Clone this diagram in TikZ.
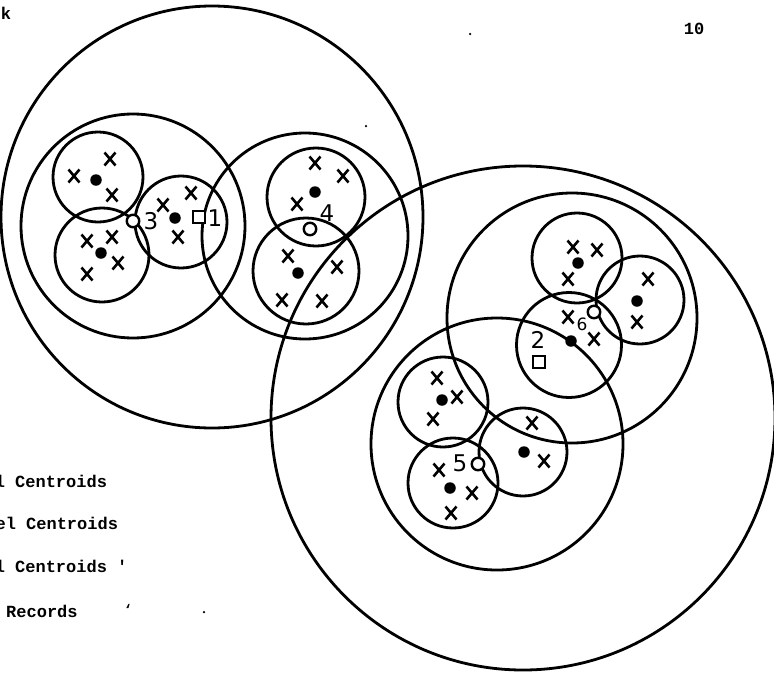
\documentclass[tikz,border=0pt]{standalone}
\usepackage{fontspec}
\newfontfamily\labfont{DejaVu Sans}
\newfontfamily\legfont{Liberation Mono}
\begin{document}
\begin{tikzpicture}[x=1pt,y=-1pt,
  ring/.style={circle, draw, line width=2.8pt, inner sep=0pt},
  cdot/.style={circle, fill, inner sep=0pt, minimum size=11.5pt},
  ocirc/.style={circle, draw, line width=2.4pt, fill=white, inner sep=0pt, minimum size=12.5pt},
  sqr/.style={draw, line width=2.4pt, fill=white, inner sep=0pt, minimum width=12pt, minimum height=12pt},
  num/.style={font=\labfont\fontsize{23}{23}\selectfont, inner sep=0pt},
  smallnum/.style={font=\labfont\fontsize{17}{17}\selectfont, inner sep=0pt},
  leg/.style={font=\legfont\bfseries\fontsize{17}{17}\selectfont, anchor=base west, inner sep=0pt},
  speck/.style={circle, fill, inner sep=0pt, minimum size=2.5pt},
  xm/.pic={\draw[line width=2.6pt] (-5.5,-6.5)--(5.5,6.5) (-5.5,6.5)--(5.5,-6.5);}
]
\useasboundingbox (0,0) rectangle (774,678);
% level 1
\node[ring, minimum size=422pt] (TL) at (212,217) {};
\node[ring, minimum size=504pt] (BR) at (523,418) {};
% level 2
\node[ring, minimum size=224pt] (TLa) at (133,226) {};
\node[ring, minimum size=206pt] (TLb) at (305,236) {};
\node[ring, minimum size=250pt] (BRa) at (572,318) {};
\node[ring, minimum size=252pt] (BRb) at (497,444) {};
% level 3
\node[ring, minimum size=90pt]  (A) at (98,177) {};
\node[ring, minimum size=94pt]  (B) at (102,255) {};
\node[ring, minimum size=92pt]  (C) at (181,222) {};
\node[ring, minimum size=98pt]  (D) at (316,197) {};
\node[ring, minimum size=106pt] (E) at (306,271) {};
\node[ring, minimum size=90pt]  (F) at (577,258) {};
\node[ring, minimum size=88pt]  (G) at (640,300) {};
\node[ring, minimum size=105pt] (H) at (569,345) {};
\node[ring, minimum size=90pt]  (I) at (443,402) {};
\node[ring, minimum size=88pt]  (J) at (523,452) {};
\node[ring, minimum size=90pt]  (K) at (453,483) {};
% centroid dots
\foreach \n/\p in {dA/{(96,180)}, dB/{(101,253)}, dC/{(175,218)}, dD/{(315,192)}, dE/{(298,273)},
                  dF/{(578,263)}, dG/{(637,301)}, dH/{(571,341)}, dI/{(442,400)}, dJ/{(524,452)}, dK/{(450,488)}}
  \node[cdot] (\n) at \p {};
% records
\foreach \p in {(74,176),(110,159),(112,195),
                (87,241),(112,237),(118,263),(87,274),
                (163,205),(191,193),(178,237),
                (315,163),(343,176),(297,204),
                (288,256),(337,267),(282,300),(322,301),
                (573,247),(597,250),(568,279),
                (648,279),(637,322),
                (568,317),(594,339),
                (437,378),(457,397),(433,419),
                (532,423),(544,461),
                (439,470),(472,493),(451,513)}
  \pic at \p {xm};
% open circles
\node[ocirc] (o3) at (133,221) {};
\node[ocirc] (o4) at (310,229) {};
\node[ocirc] (o5) at (478,464) {};
\node[ocirc] (o6) at (594,312) {};
% squares
\node[sqr] (s1) at (199,217) {};
\node[sqr] (s2) at (539,362) {};
% labels
\node[num] (l3) at (151,221) {3};
\node[num] (l1) at (215,218) {1};
\node[num] (l4) at (327,213) {4};
\node[num] (l2) at (538,340) {2};
\node[smallnum] (l6) at (582,324) {6};
\node[num] (l5) at (460,463) {5};
% page text
\node[font=\legfont\bfseries\fontsize{17}{17}\selectfont, inner sep=0pt] (k) at (6,13) {k};
\node[font=\legfont\bfseries\fontsize{17}{17}\selectfont, inner sep=0pt] (pg) at (694,29) {10};
\node[leg] (t1) at (-5.4,487) {l Centroids};
\node[leg] (t2) at (-4.6,529) {el Centroids};
\node[leg] (t3) at (-5.4,572) {l Centroids '};
\node[leg] (t4) at (6,617) {Records};
\node[font=\legfont\bfseries\fontsize{14}{14}\selectfont, inner sep=0pt] (m1) at (128,609) {‘};
\node[speck] (m2) at (204,612) {};
\node[speck] (m3) at (470,34) {};
\node[speck] (m4) at (366,126) {};
\end{tikzpicture}
\end{document}
